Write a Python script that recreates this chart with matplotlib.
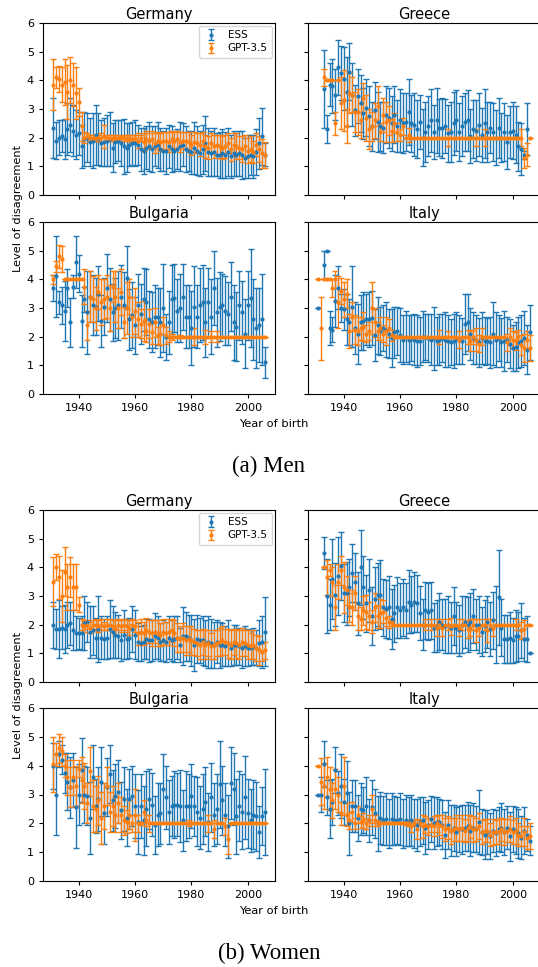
import numpy as np
import matplotlib
matplotlib.use("Agg")
import matplotlib.pyplot as plt

nan = np.nan
years = np.arange(1931, 2007)

# ---------------- Men ----------------
men_germany_ess = [2.35, 1.9, 2.0, 2.05, 1.95, 2.3, 2.45, 2.25, 2.1, 2.15,
                   1.7, 1.95, 2.0, 1.85, 1.9, 2.1, 1.95, 1.8, 1.85, 1.9,
                   1.95, 1.65, 1.85, 1.9, 1.8, 1.7, 1.65, 1.75, 1.8, 1.8,
                   1.75, 1.6, 1.55, 1.65, 1.7, 1.6, 1.7, 1.75, 1.6, 1.55,
                   1.55, 1.7, 1.6, 1.55, 1.6, 1.7, 1.75, 1.6, 1.55, 1.5,
                   1.65, 1.55, 1.45, 1.6, 1.8, 1.5, 1.45, 1.5, 1.4, 1.4,
                   1.45, 1.4, 1.5, 1.35, 1.45, 1.4, 1.45, 1.4, 1.3, 1.35,
                   1.4, 1.35, 1.5, 1.8, 2.05, 1.4]
men_germany_ess_err = [1.05, 0.65, 0.6, 0.55, 0.7, 0.9, 0.95, 0.9, 0.85, 0.75,
                       0.75, 0.95, 0.85, 0.85, 0.95, 1.05, 0.9, 0.8, 0.85, 0.9,
                       0.95, 0.85, 0.75, 0.7, 0.8, 0.95, 0.85, 0.75, 0.75, 0.8,
                       0.7, 0.75, 0.8, 0.75, 0.85, 0.8, 0.7, 0.8, 0.75, 0.7,
                       0.8, 0.75, 0.8, 0.7, 0.7, 0.85, 0.75, 0.8, 0.7, 0.75,
                       0.9, 0.85, 0.8, 0.85, 0.95, 0.85, 0.8, 0.85, 0.75, 0.8,
                       0.85, 0.8, 0.85, 0.75, 0.8, 0.75, 0.8, 0.85, 0.7, 0.75,
                       0.7, 0.75, 0.8, 0.9, 1.0, 0.4]
men_germany_gpt = [3.85, 4.1, 4.05, 3.85, 3.95, 3.6, 4.0, 3.85, 3.55, 3.25,
                   2.4, 2.0, 2.05, 2.0, 2.0, 2.0, 2.0, 2.0, 2.05, 2.0,
                   2.0, 2.0, 2.0, 2.0, 2.0, 2.0, 2.0, 2.0, 1.95, 2.0,
                   1.9, 2.0, 1.85, 1.95, 1.9, 1.95, 1.8, 1.9, 1.85, 1.9,
                   1.9, 1.85, 1.95, 1.9, 1.95, 1.85, 1.9, 1.9, 1.85, 1.75,
                   1.85, 1.8, 1.75, 1.9, 1.7, 1.65, 1.8, 1.7, 1.75, 1.7,
                   1.65, 1.7, 1.8, 1.6, 1.75, 1.7, 1.65, 1.6, 1.7, 1.55,
                   1.6, 1.5, 1.75, 1.6, 1.45, 1.4]
men_germany_gpt_err = [0.9, 0.35, 0.45, 0.6, 0.8, 0.95, 0.8, 0.75, 0.9, 0.5,
                       0.5, 0.2, 0.1, 0.1, 0.1, 0.1, 0.1, 0.15, 0.4, 0.1,
                       0.1, 0.1, 0.1, 0.1, 0.05, 0.1, 0.1, 0.1, 0.15, 0.1,
                       0.25, 0.1, 0.3, 0.3, 0.25, 0.3, 0.35, 0.3, 0.3, 0.3,
                       0.3, 0.35, 0.3, 0.3, 0.3, 0.35, 0.3, 0.3, 0.35, 0.35,
                       0.35, 0.35, 0.4, 0.3, 0.4, 0.4, 0.35, 0.4, 0.35, 0.4,
                       0.4, 0.4, 0.35, 0.4, 0.4, 0.45, 0.4, 0.45, 0.4, 0.45,
                       0.45, 0.4, 0.4, 0.45, 0.5, 0.45]

men_greece_ess = [nan, nan, 3.7, 2.3, 3.85, 3.8, 3.5, 4.45, 4.25, 4.05,
                  3.6, 4.3, 3.5, 2.95, 3.45, 3.2, 2.85, 3.05, 2.75, 2.4,
                  2.95, 2.55, 2.4, 2.35, 2.8, 2.7, 2.5, 2.8, 2.4, 2.6,
                  2.5, 2.55, 2.9, 2.5, 2.45, 2.3, 2.55, 2.0, 2.2, 2.4,
                  2.6, 2.2, 2.6, 2.35, 2.35, 2.4, 2.15, 2.2, 2.5, 2.6,
                  2.2, 2.4, 2.55, 2.6, 2.05, 2.3, 2.25, 2.45, 2.1, 2.5,
                  2.2, 2.35, 2.2, 2.0, 2.35, 2.0, 2.2, 1.85, 2.2, 2.25,
                  2.1, 1.7, 1.6, 1.4, 2.3, nan]
men_greece_ess_err = [nan, nan, 1.35, 0.5, 0.75, 0.95, 0.9, 0.95, 0.95, 1.1,
                      1.2, 1.0, 1.1, 0.9, 0.95, 1.0, 0.9, 1.0, 1.05, 0.85,
                      1.0, 1.05, 0.85, 0.9, 1.0, 1.05, 0.95, 1.0, 0.9, 1.1,
                      1.05, 1.0, 1.15, 1.0, 1.1, 1.0, 0.95, 1.0, 1.05, 1.05,
                      1.1, 0.95, 1.15, 1.0, 1.05, 0.95, 1.0, 1.05, 1.1, 1.05,
                      1.0, 1.05, 1.0, 1.05, 0.95, 1.0, 1.05, 1.1, 0.95, 1.2,
                      1.05, 0.9, 1.0, 0.95, 1.05, 0.85, 1.0, 0.95, 0.9, 1.0,
                      1.0, 0.85, 0.9, 0.15, 0.9, nan]
men_greece_gpt = [nan, nan, 4.1, 4.0, 4.0, 4.0, 2.5, 4.0, 3.2, 3.3,
                  2.4, 3.55, 3.5, 2.9, 2.9, 2.6, 3.4, 2.7, 2.3, 2.4,
                  2.6, 3.1, 2.2, 2.8, 2.55, 2.6, 2.25, 2.5, 2.2, 2.1,
                  2.4, 2.0, 2.1, 2.0, 2.0, 2.0, 2.0, 2.0, 2.0, 2.0,
                  2.0, 2.0, 2.0, 2.0, 2.0, 2.0, 2.0, 2.0, 2.0, 2.0,
                  2.0, 2.0, 2.0, 2.0, 2.0, 2.0, 2.0, 2.0, 2.0, 2.0,
                  2.0, 2.0, 2.0, 2.0, 2.0, 2.0, 2.0, 2.0, 2.0, 2.0,
                  2.0, 2.0, 2.0, 1.3, 1.4, 2.0]
men_greece_gpt_err = [nan, nan, 0.3, 0.0, 0.0, 0.0, 0.4, 0.0, 0.9, 1.05,
                      0.6, 0.7, 0.6, 0.7, 0.8, 0.6, 0.5, 0.8, 0.7, 0.5,
                      0.6, 0.7, 0.3, 0.6, 0.7, 0.5, 0.4, 0.35, 0.3, 0.2,
                      0.3, 0.0, 0.25, 0.0, 0.0, 0.0, 0.0, 0.0, 0.0, 0.0,
                      0.0, 0.0, 0.0, 0.0, 0.0, 0.0, 0.3, 0.0, 0.0, 0.0,
                      0.0, 0.0, 0.0, 0.0, 0.0, 0.0, 0.3, 0.0, 0.0, 0.3,
                      0.0, 0.0, 0.0, 0.0, 0.0, 0.0, 0.0, 0.0, 0.0, 0.0,
                      0.0, 0.0, 0.3, 0.35, 0.4, 0.0]

men_bulgaria_ess = [3.7, 4.1, 3.2, 3.1, 2.9, 3.7, 2.5, 3.75, 4.6, 4.2,
                    2.55, 3.3, 2.85, 3.4, 3.1, 3.05, 3.5, 2.55, 3.05, 3.7,
                    3.3, 2.85, 3.0, 3.1, 3.4, 3.1, 4.05, 2.6, 2.75, 2.4,
                    3.1, 2.8, 3.3, 3.2, 2.6, 2.5, 2.7, 2.7, 2.5, 3.0,
                    2.0, 2.5, 3.3, 3.35, 2.9, 3.0, 3.4, 2.7, 2.7, 2.3,
                    3.05, 2.7, 3.1, 3.2, 2.5, 3.2, 2.7, 3.7, 2.85, 3.05,
                    3.1, 2.9, 2.8, 3.4, 2.5, 2.35, 3.1, 2.85, 2.1, 3.1,
                    3.35, 2.6, 2.3, 2.4, 2.6, 1.1]
men_bulgaria_ess_err = [0.45, 1.4, 0.4, 0.65, 1.05, 0.65, 0.85, 0.4, 0.9, 0.65,
                        0.9, 0.45, 1.45, 0.9, 1.05, 1.0, 0.95, 0.9, 1.0, 1.2,
                        1.1, 1.0, 1.05, 1.2, 1.1, 1.15, 1.1, 1.05, 1.15, 1.0,
                        1.1, 1.05, 1.1, 1.15, 1.0, 1.05, 1.1, 1.0, 1.2, 1.55,
                        0.8, 1.1, 1.2, 1.2, 1.1, 1.2, 1.15, 1.1, 1.1, 1.3,
                        1.4, 1.1, 1.3, 1.3, 1.2, 1.2, 1.3, 1.3, 1.2, 1.2,
                        1.1, 1.2, 1.1, 1.2, 1.3, 1.2, 1.2, 1.1, 1.2, 1.2,
                        1.7, 1.4, 1.4, 1.3, 1.6, 0.55]
men_bulgaria_gpt = [4.0, 4.45, 4.8, 4.7, 4.0, 4.0, 4.0, 4.0, 4.0, 4.0,
                    4.0, 3.75, 2.4, 3.4, 3.3, 3.0, 3.55, 3.2, 3.3, 3.4,
                    3.0, 3.75, 3.4, 3.0, 3.55, 2.5, 3.0, 3.4, 2.7, 2.9,
                    2.6, 2.45, 2.55, 2.2, 2.45, 2.15, 2.5, 2.05, 2.1, 2.4,
                    2.05, 2.0, 2.0, 2.0, 2.0, 2.0, 2.0, 2.0, 2.0, 2.0,
                    2.0, 2.0, 2.0, 2.0, 2.0, 2.0, 2.0, 2.0, 2.0, 2.0,
                    2.0, 2.0, 2.0, 2.0, 2.0, 2.0, 2.0, 2.0, 2.0, 2.0,
                    2.0, 2.0, 2.0, 2.0, 2.0, 2.0]
men_bulgaria_gpt_err = [0.15, 0.2, 0.4, 0.45, 0.0, 0.0, 0.0, 0.0, 0.0, 0.0,
                        0.0, 0.6, 0.5, 0.9, 0.8, 0.75, 0.6, 0.8, 0.7, 0.75,
                        0.8, 0.55, 0.9, 0.7, 0.8, 0.55, 0.9, 0.6, 0.7, 0.8,
                        0.6, 0.5, 0.7, 0.4, 0.5, 0.4, 0.5, 0.3, 0.4, 0.3,
                        0.3, 0.2, 0.1, 0.0, 0.0, 0.05, 0.0, 0.0, 0.0, 0.0,
                        0.3, 0.0, 0.0, 0.0, 0.25, 0.0, 0.2, 0.0, 0.2, 0.0,
                        0.0, 0.0, 0.0, 0.0, 0.0, 0.0, 0.0, 0.0, 0.0, 0.0,
                        0.0, 0.0, 0.0, 0.0, 0.0, 0.0]

men_italy_ess = [3.0, nan, 4.5, 5.0, 2.3, 2.25, 3.25, 3.7, 3.0, 2.95,
                 2.6, 2.5, 3.05, 2.3, 2.1, 2.5, 2.55, 2.6, 2.6, 2.65,
                 2.05, 2.4, 2.2, 2.3, 2.25, 2.1, 1.95, 2.15, 2.2, 2.05,
                 1.9, 2.0, 1.9, 1.95, 1.9, 1.85, 1.85, 2.0, 2.0, 1.95,
                 1.9, 1.95, 1.85, 1.9, 1.95, 1.9, 1.85, 1.8, 1.85, 1.95,
                 1.9, 1.85, 2.45, 2.5, 2.1, 1.95, 1.9, 1.8, 1.95, 1.85,
                 1.85, 1.8, 2.1, 1.9, 1.95, 1.8, 1.85, 1.9, 1.75, 1.6,
                 1.65, 1.8, 1.85, 1.95, 1.55, 2.15]
men_italy_ess_err = [0.0, nan, 0.5, 0.0, 0.6, 0.45, 0.9, 0.75, 0.5, 0.7,
                     0.9, 0.8, 1.4, 0.9, 1.05, 0.95, 1.0, 0.9, 0.95, 0.95,
                     0.9, 1.0, 0.85, 0.8, 0.95, 0.85, 1.0, 0.9, 0.85, 0.95,
                     0.85, 0.9, 0.85, 0.8, 0.9, 0.9, 0.85, 0.9, 0.8, 0.85,
                     0.9, 1.1, 0.85, 0.9, 0.85, 0.95, 0.9, 0.8, 0.95, 0.9,
                     0.85, 0.8, 1.05, 1.0, 0.9, 0.9, 0.85, 0.85, 0.9, 0.85,
                     0.8, 0.9, 1.1, 0.95, 0.8, 0.85, 1.05, 0.8, 0.85, 0.8,
                     0.85, 0.9, 0.9, 0.95, 0.85, 0.95]
men_italy_gpt = [4.0, 2.3, 4.0, 4.0, 4.0, 3.7, 4.0, 3.2, 3.6, 3.3,
                 3.5, 2.2, 2.7, 2.25, 2.2, 2.3, 2.35, 2.1, 2.2, 3.0,
                 2.5, 2.2, 2.3, 2.1, 2.2, 2.3, 2.05, 2.0, 2.0, 2.0,
                 2.0, 2.0, 2.0, 2.0, 2.0, 2.0, 2.0, 2.0, 2.0, 2.0,
                 2.0, 2.0, 2.0, 2.0, 2.0, 2.0, 2.0, 2.0, 2.0, 2.0,
                 1.9, 2.0, 2.0, 2.0, 1.85, 2.0, 1.9, 1.75, 2.0, 2.0,
                 2.0, 2.0, 2.0, 2.0, 2.0, 2.0, 2.0, 1.8, 2.0, 1.9,
                 1.85, 2.0, 1.7, 1.6, 1.9, 1.6]
men_italy_gpt_err = [0.0, 1.1, 0.0, 0.0, 0.0, 0.3, 0.3, 0.9, 0.45, 0.6,
                     0.5, 0.6, 0.5, 0.5, 0.5, 0.4, 0.5, 0.3, 0.3, 0.9,
                     0.5, 0.3, 0.4, 0.3, 0.5, 0.3, 0.2, 0.05, 0.0, 0.0,
                     0.0, 0.0, 0.0, 0.0, 0.0, 0.0, 0.0, 0.0, 0.0, 0.0,
                     0.0, 0.0, 0.0, 0.25, 0.0, 0.0, 0.2, 0.0, 0.0, 0.0,
                     0.3, 0.0, 0.0, 0.25, 0.35, 0.25, 0.4, 0.3, 0.3, 0.0,
                     0.0, 0.0, 0.0, 0.0, 0.0, 0.0, 0.0, 0.3, 0.3, 0.3,
                     0.3, 0.25, 0.35, 0.5, 0.3, 0.45]

# ---------------- Women ----------------
women_germany_ess = [2.0, 1.85, 1.85, 1.9, 1.85, 2.0, 2.05, 1.8, 1.7, 1.7,
                     1.7, 2.05, 2.1, 1.75, 1.8, 1.55, 1.85, 1.55, 1.5, 1.55,
                     1.85, 1.75, 1.65, 1.6, 1.45, 1.65, 1.5, 1.55, 1.85, 1.65,
                     1.4, 1.35, 1.4, 1.5, 1.45, 1.45, 1.6, 1.55, 1.4, 1.45,
                     1.4, 1.55, 1.45, 1.5, 1.55, 1.3, 1.6, 1.6, 1.55, 1.45,
                     1.3, 1.5, 1.45, 1.45, 1.35, 1.4, 1.35, 1.3, 1.4, 1.3,
                     1.3, 1.25, 1.35, 1.2, 1.3, 1.3, 1.25, 1.2, 1.25, 1.2,
                     1.2, 1.25, 1.2, 1.35, 1.4, 1.75]
women_germany_ess_err = [0.8, 0.7, 1.0, 0.75, 0.85, 0.8, 0.75, 0.7, 0.6, 0.55,
                         0.6, 0.95, 0.7, 0.9, 0.85, 0.7, 1.15, 0.75, 0.7, 0.75,
                         1.0, 0.9, 0.8, 0.75, 0.7, 0.85, 0.7, 0.7, 0.8, 0.85,
                         0.65, 0.6, 0.6, 0.7, 0.75, 0.7, 0.8, 0.75, 0.65, 0.7,
                         0.7, 0.75, 0.7, 0.8, 0.75, 0.6, 1.0, 0.85, 0.8, 0.9,
                         0.9, 0.85, 0.8, 0.85, 0.8, 0.9, 0.85, 0.8, 0.75, 0.8,
                         0.75, 0.7, 0.8, 0.65, 0.7, 0.7, 0.65, 0.7, 0.7, 0.65,
                         0.6, 0.65, 0.6, 0.8, 0.9, 1.2]
women_germany_gpt = [3.5, 4.0, 3.65, 3.0, 3.85, 3.3, 3.65, 3.3, 3.3, 2.7,
                     2.0, 1.95, 2.0, 1.9, 2.0, 2.0, 1.95, 2.0, 1.95, 2.0,
                     2.0, 1.95, 1.9, 2.0, 1.95, 2.0, 1.95, 1.9, 2.0, 1.95,
                     1.7, 1.75, 1.7, 1.8, 1.75, 1.7, 1.75, 1.7, 1.65, 1.75,
                     1.7, 1.75, 1.8, 1.7, 1.55, 1.5, 1.55, 1.45, 1.5, 1.45,
                     1.4, 1.35, 1.3, 1.4, 1.3, 1.35, 1.25, 1.3, 1.35, 1.4,
                     1.45, 1.4, 1.35, 1.3, 1.4, 1.35, 1.3, 1.4, 1.35, 1.3,
                     1.25, 1.3, 1.2, 1.1, 1.05, 1.1]
women_germany_gpt_err = [0.85, 0.45, 0.75, 0.9, 0.85, 0.8, 0.7, 0.8, 0.8, 0.25,
                         0.2, 0.2, 0.15, 0.2, 0.15, 0.2, 0.2, 0.2, 0.15, 0.2,
                         0.2, 0.2, 0.25, 0.2, 0.2, 0.2, 0.2, 0.25, 0.2, 0.2,
                         0.4, 0.45, 0.4, 0.45, 0.4, 0.45, 0.4, 0.45, 0.4, 0.45,
                         0.4, 0.45, 0.4, 0.45, 0.5, 0.45, 0.5, 0.5, 0.45, 0.5,
                         0.45, 0.45, 0.5, 0.45, 0.5, 0.45, 0.45, 0.5, 0.45, 0.5,
                         0.5, 0.45, 0.5, 0.5, 0.45, 0.5, 0.5, 0.5, 0.45, 0.5,
                         0.45, 0.5, 0.45, 0.5, 0.3, 0.3]

women_greece_ess = [nan, nan, 4.5, 3.0, 2.7, 3.6, 3.05, 3.7, 4.05, 3.1,
                    3.1, 3.3, 3.8, 3.5, 2.75, 4.0, 3.3, 2.75, 3.2, 2.3,
                    2.9, 3.05, 3.05, 2.6, 2.55, 2.6, 2.2, 2.4, 2.6, 2.5,
                    2.6, 2.5, 2.8, 2.7, 2.8, 2.75, 2.4, 2.0, 2.5, 2.45,
                    2.5, 1.9, 1.95, 2.1, 2.0, 1.95, 2.0, 1.9, 2.3, 1.9,
                    1.8, 2.0, 2.1, 2.0, 2.1, 2.3, 2.0, 2.0, 1.75, 1.95,
                    2.1, 1.85, 2.15, 2.0, 2.95, 1.9, 1.5, 1.5, 1.55, 1.45,
                    1.6, 1.6, 1.8, 1.5, 1.5, 1.0]
women_greece_ess_err = [nan, nan, 0.55, 1.3, 0.9, 1.4, 1.1, 1.35, 1.2, 1.0,
                        1.1, 1.0, 1.0, 1.0, 1.1, 1.3, 1.1, 1.0, 1.1, 1.0,
                        1.1, 1.1, 1.2, 1.0, 1.0, 1.1, 1.05, 1.0, 1.05, 0.95,
                        1.0, 0.95, 1.1, 1.0, 1.05, 1.0, 0.95, 0.9, 1.0, 1.0,
                        1.0, 0.85, 0.9, 1.0, 0.9, 0.95, 1.0, 0.9, 1.0, 0.9,
                        0.9, 1.0, 0.9, 0.95, 1.0, 0.95, 0.9, 1.0, 0.85, 0.9,
                        0.9, 0.95, 1.0, 1.35, 1.65, 1.0, 0.85, 0.85, 0.9, 0.8,
                        0.9, 0.85, 0.95, 0.75, 0.8, 0.0]
women_greece_gpt = [nan, nan, 4.0, 3.65, 3.9, 3.5, 2.6, 3.5, 3.9, 3.3,
                    3.2, 2.6, 2.6, 3.1, 2.3, 2.2, 2.5, 2.45, 2.3, 2.1,
                    2.6, 2.3, 2.4, 2.45, 2.25, 2.1, 2.05, 2.0, 2.0, 2.0,
                    2.0, 2.0, 2.0, 2.0, 2.0, 2.0, 2.0, 2.0, 2.0, 2.0,
                    2.0, 2.0, 1.9, 2.0, 1.9, 2.0, 2.0, 1.95, 2.0, 2.0,
                    1.9, 2.0, 2.0, 1.85, 1.9, 2.0, 1.8, 1.9, 2.0, 2.0,
                    1.8, 2.0, 1.9, 2.0, 2.0, 2.0, 2.0, 2.0, 2.0, 2.0,
                    2.0, 2.0, 1.8, 1.85, 2.0, 2.0]
women_greece_gpt_err = [nan, nan, 0.0, 0.6, 0.2, 0.5, 0.8, 0.6, 0.5, 0.9,
                        0.5, 0.5, 0.6, 0.6, 0.5, 0.4, 0.5, 0.6, 0.5, 0.4,
                        0.5, 0.4, 0.5, 0.4, 0.3, 0.2, 0.1, 0.0, 0.0, 0.0,
                        0.0, 0.0, 0.0, 0.0, 0.0, 0.0, 0.0, 0.0, 0.2, 0.0,
                        0.2, 0.0, 0.3, 0.1, 0.3, 0.0, 0.2, 0.3, 0.0, 0.0,
                        0.3, 0.2, 0.0, 0.3, 0.3, 0.2, 0.4, 0.3, 0.0, 0.2,
                        0.4, 0.2, 0.3, 0.0, 0.0, 0.0, 0.0, 0.0, 0.0, 0.0,
                        0.2, 0.0, 0.3, 0.3, 0.0, 0.0]

women_bulgaria_ess = [4.0, 3.0, 4.4, 4.2, 3.75, 3.45, 3.25, 3.5, 2.55, 3.0,
                      3.85, 3.0, 2.95, 2.2, 3.6, 2.6, 2.85, 3.45, 2.35, 3.25,
                      3.7, 2.8, 2.95, 3.1, 2.45, 2.85, 2.2, 2.85, 2.95, 2.6,
                      2.05, 2.6, 2.1, 2.5, 2.85, 2.65, 1.95, 2.3, 2.35, 3.2,
                      2.9, 2.4, 2.6, 2.65, 2.65, 2.6, 2.1, 2.6, 2.6, 2.95,
                      2.6, 2.4, 2.2, 2.5, 2.75, 2.05, 2.9, 2.3, 2.5, 3.35,
                      2.8, 2.3, 1.9, 3.4, 3.2, 2.25, 2.6, 2.4, 2.9, 2.35,
                      2.1, 2.3, 2.25, 1.7, 2.25, 2.4]
women_bulgaria_ess_err = [0.8, 1.4, 0.45, 0.5, 0.7, 1.0, 1.05, 0.95, 1.4, 1.05,
                          1.1, 1.0, 1.0, 1.25, 1.1, 0.95, 1.1, 1.2, 1.05, 1.0,
                          1.0, 1.05, 1.1, 1.1, 1.0, 1.1, 1.0, 1.05, 1.05, 1.1,
                          1.1, 1.1, 1.2, 1.3, 1.05, 1.1, 1.0, 1.1, 1.05, 1.2,
                          1.1, 1.1, 1.05, 1.15, 1.1, 1.25, 1.05, 1.2, 1.1, 1.1,
                          1.05, 1.2, 1.1, 1.2, 1.2, 1.0, 1.2, 1.1, 1.2, 1.5,
                          1.2, 1.1, 1.1, 1.25, 1.25, 1.3, 1.2, 1.3, 1.45, 1.2,
                          1.1, 1.2, 1.2, 0.9, 1.0, 1.5]
women_bulgaria_gpt = [4.05, 4.4, 4.6, 4.5, 4.0, 3.6, 3.25, 3.6, 3.3, 3.9,
                      3.5, 3.3, 2.7, 3.8, 2.6, 2.5, 2.8, 2.2, 2.6, 3.3,
                      2.4, 2.6, 2.3, 2.7, 2.3, 2.1, 2.05, 2.3, 2.0, 2.3,
                      2.0, 2.0, 2.4, 2.1, 2.0, 2.0, 2.0, 2.0, 2.0, 2.0,
                      2.0, 2.0, 2.0, 2.0, 2.0, 2.0, 2.0, 2.0, 2.0, 2.0,
                      2.0, 2.0, 2.0, 2.0, 2.0, 2.0, 2.0, 1.8, 2.0, 2.0,
                      2.0, 1.9, 1.45, 2.0, 2.0, 2.0, 2.0, 2.0, 2.0, 2.0,
                      2.0, 2.0, 2.0, 2.0, 2.0, 2.0]
women_bulgaria_gpt_err = [0.95, 0.4, 0.5, 0.5, 0.4, 0.6, 0.7, 0.6, 0.7, 0.3,
                          0.8, 0.8, 0.7, 0.85, 0.9, 0.8, 0.85, 0.9, 0.8, 0.65,
                          0.7, 0.7, 0.6, 0.7, 0.6, 0.5, 0.4, 0.5, 0.3, 0.9,
                          0.3, 0.05, 0.4, 0.2, 0.3, 0.0, 0.0, 0.0, 0.0, 0.0,
                          0.0, 0.0, 0.0, 0.0, 0.0, 0.0, 0.0, 0.0, 0.1, 0.0,
                          0.0, 0.0, 0.0, 0.0, 0.0, 0.3, 0.0, 0.3, 0.0, 0.0,
                          0.0, 0.3, 0.5, 0.0, 0.0, 0.0, 0.0, 0.0, 0.0, 0.0,
                          0.0, 0.0, 0.0, 0.0, 0.0, 0.0]

women_italy_ess = [3.0, 3.0, 4.05, 2.9, 2.5, 2.75, 3.85, 3.05, 3.3, 2.75,
                   3.05, 2.0, 2.6, 2.6, 2.2, 2.5, 2.45, 2.6, 2.1, 2.55,
                   2.35, 2.0, 2.2, 2.1, 2.15, 2.0, 2.15, 2.1, 2.1, 2.15,
                   2.0, 2.1, 2.05, 2.1, 2.0, 1.95, 2.05, 2.1, 1.85, 1.95,
                   2.15, 2.0, 2.05, 2.05, 1.95, 1.6, 1.95, 1.75, 1.85, 1.7,
                   1.8, 1.8, 1.85, 1.9, 1.75, 1.85, 1.8, 2.05, 1.7, 1.6,
                   1.7, 1.55, 1.75, 1.65, 1.8, 1.85, 1.7, 1.85, 1.55, 1.8,
                   1.75, 1.65, 1.5, 1.75, 1.6, 1.4]
women_italy_ess_err = [0.0, 0.6, 0.8, 0.6, 1.0, 0.8, 0.8, 0.75, 1.1, 0.8,
                       1.1, 1.1, 0.9, 0.9, 0.8, 0.9, 0.8, 1.0, 0.75, 0.95,
                       0.85, 0.95, 0.9, 0.85, 0.9, 0.85, 0.9, 0.85, 0.8, 0.9,
                       0.85, 0.9, 0.85, 0.9, 0.85, 0.9, 0.85, 0.8, 0.9, 0.85,
                       0.8, 0.9, 0.85, 0.8, 0.85, 0.8, 0.85, 0.9, 0.8, 0.85,
                       0.8, 0.85, 0.8, 0.85, 0.9, 0.85, 0.8, 1.1, 0.8, 0.85,
                       0.75, 0.8, 0.75, 0.8, 0.75, 0.85, 0.8, 0.75, 0.85, 0.8,
                       0.8, 0.85, 0.75, 0.8, 0.55, 0.5]
women_italy_gpt = [4.0, 3.45, 3.3, 3.6, 3.2, 2.8, 3.2, 3.0, 2.35, 3.3,
                   2.3, 2.1, 2.4, 2.0, 2.3, 2.05, 2.1, 2.0, 2.1, 2.5,
                   2.1, 2.0, 2.0, 2.0, 2.0, 2.0, 2.0, 2.0, 2.0, 2.0,
                   2.0, 2.0, 2.0, 1.9, 2.0, 1.8, 2.0, 1.9, 1.95, 1.9,
                   1.95, 1.9, 2.0, 1.95, 1.9, 1.8, 1.85, 1.75, 1.8, 1.85,
                   1.8, 1.85, 1.75, 1.85, 1.9, 1.8, 1.8, 1.9, 1.7, 1.75,
                   1.75, 1.6, 1.7, 1.7, 1.75, 1.8, 1.7, 1.75, 1.8, 1.7,
                   1.75, 1.6, 1.55, 1.7, 1.5, 1.55]
women_italy_gpt_err = [0.0, 0.8, 0.8, 0.7, 0.75, 0.6, 0.7, 0.6, 0.4, 1.0,
                       0.4, 0.3, 0.35, 0.2, 0.3, 0.2, 0.25, 0.2, 0.2, 0.5,
                       0.2, 0.1, 0.0, 0.0, 0.0, 0.0, 0.0, 0.0, 0.0, 0.0,
                       0.0, 0.05, 0.1, 0.2, 0.1, 0.35, 0.1, 0.4, 0.3, 0.3,
                       0.25, 0.35, 0.3, 0.35, 0.4, 0.4, 0.4, 0.45, 0.4, 0.45,
                       0.4, 0.45, 0.4, 0.45, 0.4, 0.45, 0.4, 0.45, 0.4, 0.4,
                       0.4, 0.4, 0.45, 0.4, 0.45, 0.4, 0.45, 0.4, 0.45, 0.4,
                       0.45, 0.4, 0.35, 0.5, 0.4, 0.45]

countries = ["Germany", "Greece", "Bulgaria", "Italy"]
men = {
    "Germany": (men_germany_ess, men_germany_ess_err, men_germany_gpt, men_germany_gpt_err),
    "Greece": (men_greece_ess, men_greece_ess_err, men_greece_gpt, men_greece_gpt_err),
    "Bulgaria": (men_bulgaria_ess, men_bulgaria_ess_err, men_bulgaria_gpt, men_bulgaria_gpt_err),
    "Italy": (men_italy_ess, men_italy_ess_err, men_italy_gpt, men_italy_gpt_err),
}
women = {
    "Germany": (women_germany_ess, women_germany_ess_err, women_germany_gpt, women_germany_gpt_err),
    "Greece": (women_greece_ess, women_greece_ess_err, women_greece_gpt, women_greece_gpt_err),
    "Bulgaria": (women_bulgaria_ess, women_bulgaria_ess_err, women_bulgaria_gpt, women_bulgaria_gpt_err),
    "Italy": (women_italy_ess, women_italy_ess_err, women_italy_gpt, women_italy_gpt_err),
}
series_labels = ["ESS", "GPT-3.5"]
captions = ["(a) Men", "(b) Women"]
y_ticks = [0, 1, 2, 3, 4, 5, 6]
x_ticks = [1940, 1960, 1980, 2000]

W, H = 538, 967
fig = plt.figure(figsize=(W / 100, H / 100), dpi=100)


def fr(left, top, right, bottom):
    return [left / W, 1 - bottom / H, (right - left) / W, (bottom - top) / H]


cols = [(43, 275), (308, 540)]
blocks = [
    dict(data=men, rows=[(23, 195), (222, 394)], xlabel_y=424, cap_y=466, ylab_y=208),
    dict(data=women, rows=[(510, 682), (708, 881)], xlabel_y=911, cap_y=953, ylab_y=695),
]

for bi, blk in enumerate(blocks):
    axes = []
    first = None
    for ri, (top, bottom) in enumerate(blk["rows"]):
        for ci, (left, right) in enumerate(cols):
            if first is None:
                ax = fig.add_axes(fr(left, top, right, bottom))
                first = ax
            else:
                ax = fig.add_axes(fr(left, top, right, bottom), sharex=first, sharey=first)
            axes.append(ax)
    for k, (ax, c) in enumerate(zip(axes, countries)):
        ess, ess_err, gpt, gpt_err = blk["data"][c]
        ax.errorbar(years, ess, yerr=ess_err, fmt='.', color='C0', ms=4,
                    capsize=2, elinewidth=1.0, capthick=1.0, label=series_labels[0])
        ax.errorbar(years, gpt, yerr=gpt_err, fmt='.', color='C1', ms=4,
                    capsize=2, elinewidth=1.0, capthick=1.0, label=series_labels[1])
        ax.set_title(c, fontsize=10.5, pad=3)
        ax.set_ylim(0, 6)
        ax.set_xlim(1927.3, 2009.7)
        ax.set_yticks(y_ticks)
        ax.set_xticks(x_ticks)
        ax.tick_params(labelsize=8, length=3, width=0.8)
        if k % 2 == 1:
            ax.tick_params(labelleft=False)
        if k < 2:
            ax.tick_params(labelbottom=False)
        if k == 0:
            ax.legend(loc='upper right', fontsize=7.5, borderaxespad=0.3,
                      handlelength=1.6, labelspacing=0.3)
    fig.text(274 / W, 1 - blk["xlabel_y"] / H, "Year of birth", ha='center', va='center', fontsize=8.2)
    fig.text(18 / W, 1 - blk["ylab_y"] / H, "Level of disagreement", rotation=90,
             ha='center', va='center', fontsize=8.2)
    fig.text(269 / W, 1 - blk["cap_y"] / H, captions[bi], ha='center', va='center',
             fontsize=16.5, family=['Liberation Serif', 'DejaVu Serif'])

fig.savefig("out.png", dpi=100)
